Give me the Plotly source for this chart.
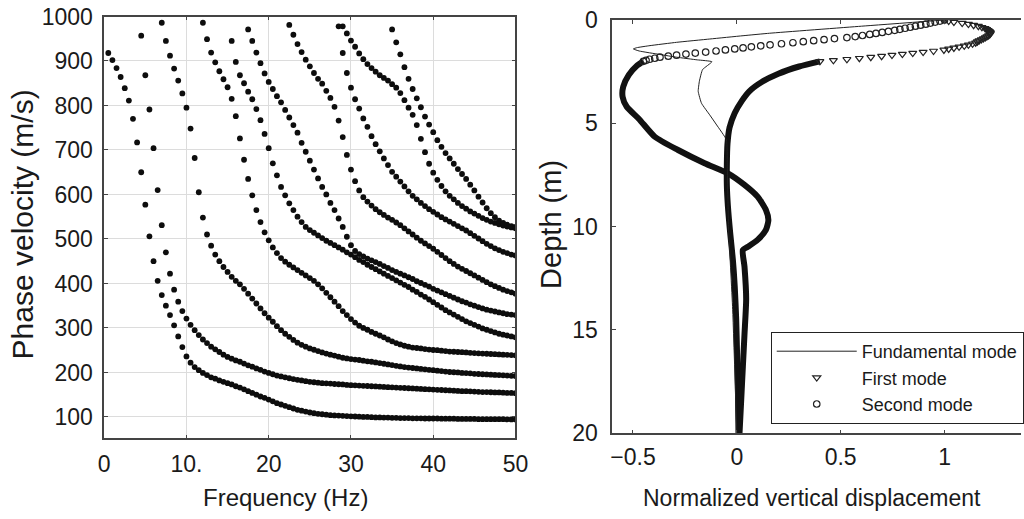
import numpy as np
import plotly.graph_objects as go

# ---------------- Left panel: dispersion curves (phase velocity vs frequency) ----------------
FREQ_STEP = 0.5
mode_start_freq = [0.5, 4.5, 7.0, 12.0, 15.5, 17.5, 22.5, 28.5, 29.0, 35.0]

v0 = [918, 902, 884, 864, 839, 811, 770, 717, 650, 577,
      506, 450, 406, 374, 350, 329, 306, 281, 257, 236,
      222, 212, 205, 199, 194, 189, 186, 182, 179, 176,
      173, 169, 166, 162, 158, 154, 150, 146, 143, 139,
      135, 131, 128, 125, 122, 119, 116, 114, 112, 110,
      108.5, 107, 106, 105, 104, 103.5, 103, 102.5, 102, 101.5,
      101, 100.5, 100, 100, 99.5, 99, 99, 98.5, 98.5, 98,
      98, 97.5, 97.5, 97.5, 97, 97, 97, 96.5, 96.5, 96.5,
      96.5, 96, 96, 96, 96, 95.5, 95.5, 95.5, 95.5, 95.5,
      95, 95, 95, 95, 95, 95, 95, 94.5, 94.5, 94.5]
v1 = [957, 868, 791, 704, 610, 531, 470, 422, 386, 359,
      338, 321, 307, 295, 284, 274, 266, 258, 252, 246,
      240, 235, 231, 227, 224, 220, 216, 213, 209, 206,
      202, 199, 196, 193, 191, 189, 187, 185, 183.5, 182,
      180.5, 179, 178, 177, 176, 175.5, 175, 174, 173.5, 173,
      172, 171.5, 171, 170.5, 170, 169.5, 169, 168.5, 168, 167.5,
      167, 166.5, 166, 165.5, 165, 164.5, 164, 163.5, 163, 162.5,
      162, 161.5, 161, 160.5, 160, 159.5, 159, 158.5, 158, 158,
      157.5, 157, 156.5, 156, 156, 155.5, 155, 155, 154.5, 154,
      154, 153.5]
v2 = [986, 945, 912, 883, 856, 827, 795, 748, 682, 605,
      548, 510, 485, 465, 450, 437, 426, 415, 406, 398,
      388, 377, 366, 355, 344, 333, 323, 314, 304, 295,
      287, 280, 273, 267, 262, 258, 254, 251, 248, 245,
      242.5, 240, 238, 235.5, 233, 231.5, 230, 229, 228, 226.5,
      225, 224, 222.5, 221, 219.5, 218, 216.5, 215, 213.5, 212,
      211, 210, 209, 208, 207, 206, 205, 204, 203, 202,
      201, 200.5, 200, 199, 198.5, 198, 197, 196.5, 196, 195.5,
      195, 194.5, 194, 193.5, 193, 192.5, 192]
v3 = [986, 949, 919, 897, 877, 859, 841, 815, 776, 726,
      678, 635, 598, 565, 538, 515, 497, 481, 468, 457,
      449, 442, 436, 430, 424, 418, 412, 406, 398, 389,
      379, 369, 359, 349, 338, 329, 320, 312, 305, 300,
      296, 291, 287, 283, 279, 274, 270, 266, 263, 260,
      258, 256, 255, 254, 252.5, 251.5, 250.5, 250, 249, 248,
      247, 246.5, 246, 245.5, 245, 244, 243.5, 243, 242.5, 242,
      241.5, 241, 240.5, 240, 239.5, 239, 238.5]
v4 = [945, 898, 868, 850, 831, 814, 792, 767, 736, 704,
      670, 643, 617, 598, 580, 565, 550, 538, 527, 520,
      514, 508, 502, 496, 491, 486, 481, 476, 470, 465,
      459, 453, 448, 442, 437, 432, 427, 422, 417, 412,
      407, 402, 397, 392, 386, 381, 375, 370, 364, 358,
      352, 346, 340, 335, 330, 325, 320, 315, 311, 307,
      303, 299, 296, 293, 290, 287, 285, 283, 281, 279]
v5 = [971, 945, 919, 895, 872, 853, 837, 821, 807, 790,
      773, 756, 739, 716, 696, 676, 656, 636, 617, 600,
      581, 565, 546, 527, 505, 486, 473, 466, 461, 456,
      452, 448, 444, 439, 435, 430, 426, 422, 418, 414,
      410, 405, 401, 397, 393, 388, 384, 380, 376, 372,
      368, 364, 360, 357, 353, 350, 347, 344, 341, 339,
      337, 335, 333, 331, 330, 329]
v6 = [981, 959, 938, 920, 903, 888, 873, 860, 849, 833,
      817, 797, 766, 729, 689, 656, 630, 609, 594, 584,
      575, 567, 560, 554, 548, 543, 537, 531, 524, 517,
      510, 503, 496, 490, 484, 478, 471, 464, 457, 450,
      444, 438, 433, 428, 423, 418, 413, 408, 403, 398,
      394, 390, 386, 383, 380, 377]
v7 = [978, 918, 873, 840, 814, 793, 771, 752, 731, 713,
      697, 681, 666, 651, 640, 629, 618, 607, 597, 589,
      581, 574, 567, 561, 555, 549, 544, 539, 534, 529,
      524, 519, 513, 507, 501, 495, 489, 484, 479, 475,
      471, 468, 465, 463]
v8 = [978, 962, 946, 932, 917, 904, 893, 884, 876, 868,
      862, 856, 848, 840, 828, 812, 795, 779, 756, 725,
      695, 669, 649, 633, 619, 607, 597, 589, 581, 574,
      568, 562, 557, 552, 547, 543, 539, 536, 533, 530,
      528, 526, 524]
v9 = [971, 942, 915, 886, 860, 837, 816, 796, 775, 757,
      740, 722, 707, 693, 681, 669, 657, 646, 635, 622,
      609, 595, 582, 569, 558, 549, 541, 536, 532, 529,
      527]
velocity_curves = [v0, v1, v2, v3, v4, v5, v6, v7, v8, v9]

x_ticks = [0, 10, 20, 30, 40, 50]
x_tick_text = ["0", "10.", "20", "30", "40", "50"]
y_ticks = [100, 200, 300, 400, 500, 600, 700, 800, 900, 1000]

# ---------------- Right panel: mode shapes (normalized vertical displacement vs depth) ----------------
fund_x = [1.0, 0.6, 0.158, 0.03, -0.13, -0.29, -0.418, -0.482, -0.498, -0.47, -0.37, -0.29,
          -0.19, -0.12, -0.165, -0.18, -0.186, -0.17, -0.13, -0.097, -0.05, -0.046, -0.04, -0.02, 0.0]
fund_depth = [0.0, 0.3, 0.64, 0.76, 0.92, 1.08, 1.24, 1.34, 1.40, 1.50, 1.67, 1.80,
              1.93, 2.02, 2.40, 2.95, 3.45, 4.03, 4.60, 5.08, 5.80, 7.0, 10.0, 14.0, 20.0]

first_x = [1.0, 1.02, 1.045, 1.085, 1.115, 1.14, 1.163, 1.18, 1.195, 1.203, 1.21,
           1.216, 1.22, 1.221, 1.218, 1.212, 1.204, 1.196, 1.187, 1.177, 1.166,
           1.158, 1.15, 1.135, 1.115, 1.095, 1.07, 1.045, 1.02, 0.997, 0.947,
           0.897, 0.847, 0.797, 0.747, 0.697, 0.645, 0.59, 0.53, 0.465, 0.40]
first_depth = [0.0, 0.05, 0.10, 0.15, 0.20, 0.25, 0.30, 0.35, 0.40, 0.45, 0.50,
               0.55, 0.60, 0.65, 0.70, 0.75, 0.80, 0.85, 0.90, 0.95, 1.00,
               1.05, 1.10, 1.15, 1.20, 1.25, 1.30, 1.35, 1.40, 1.45, 1.50,
               1.55, 1.60, 1.65, 1.70, 1.75, 1.80, 1.85, 1.90, 1.95, 2.00]
first_deep_x = [0.40, 0.30, 0.20, 0.12, 0.06, 0.025, -0.01, -0.035, -0.045, -0.048, -0.048,
                -0.043, -0.032, -0.019, -0.01, -0.003, 0.001, 0.005, 0.008]
first_deep_depth = [2.0, 2.25, 2.6, 3.0, 3.45, 3.9, 4.5, 5.2, 6.0, 7.0, 8.0,
                    9.0, 10.3, 11.6, 12.9, 14.5, 16.1, 17.7, 20.0]

second_x = [1.0, 0.978, 0.955, 0.932, 0.91, 0.885, 0.86, 0.835, 0.81, 0.785, 0.76,
            0.73, 0.70, 0.67, 0.64, 0.605, 0.57, 0.53, 0.47, 0.42, 0.37,
            0.32, 0.27, 0.215, 0.16, 0.115, 0.07, 0.03, -0.01, -0.055, -0.10,
            -0.15, -0.20, -0.245, -0.29, -0.33, -0.37, -0.395, -0.42, -0.437, -0.45]
second_depth = [0.0, 0.05, 0.10, 0.15, 0.20, 0.25, 0.30, 0.35, 0.40, 0.45, 0.50,
                0.55, 0.60, 0.65, 0.70, 0.75, 0.80, 0.85, 0.90, 0.95, 1.00,
                1.05, 1.10, 1.15, 1.20, 1.25, 1.30, 1.35, 1.40, 1.45, 1.50,
                1.55, 1.60, 1.65, 1.70, 1.75, 1.80, 1.85, 1.90, 1.95, 2.00]
second_deep_x = [-0.45, -0.48, -0.52, -0.547, -0.55, -0.53, -0.47, -0.395, -0.283, -0.155,
                 -0.043, 0.037, 0.10, 0.14, 0.152, 0.14, 0.10, 0.053, 0.029, 0.037,
                 0.045, 0.037, 0.029, 0.021, 0.013]
second_deep_depth = [2.0, 2.2, 2.66, 3.23, 3.71, 4.2, 4.8, 5.65, 6.29, 6.93,
                     7.42, 7.98, 8.55, 9.19, 9.68, 10.16, 10.64, 10.97, 11.13, 11.94,
                     13.5, 15.2, 16.8, 18.4, 20.0]

r_x_ticks = [-0.5, 0, 0.5, 1]
r_x_tick_text = ["\u22120.5", "0", "0.5", "1"]
r_y_ticks = [0, 5, 10, 15, 20]

# ---------------- Figure ----------------
W, H = 1024, 519
FONT = "Liberation Sans, Arial, Helvetica, sans-serif"
TXT = "#1a1a1a"

fig = go.Figure()

for f0, vals in zip(mode_start_freq, velocity_curves):
    freqs = f0 + FREQ_STEP * np.arange(len(vals))
    fig.add_trace(go.Scatter(
        x=freqs, y=vals, mode="markers", xaxis="x", yaxis="y",
        marker=dict(size=5.8, color="#0d0d0d", line=dict(width=0)),
        showlegend=False, hoverinfo="skip"))

# right panel
fig.add_trace(go.Scatter(
    x=first_deep_x, y=first_deep_depth, mode="lines", xaxis="x2", yaxis="y2",
    line=dict(color="#111111", width=6, shape="spline", smoothing=0.6),
    showlegend=False, hoverinfo="skip"))
fig.add_trace(go.Scatter(
    x=second_deep_x, y=second_deep_depth, mode="lines", xaxis="x2", yaxis="y2",
    line=dict(color="#111111", width=6, shape="spline", smoothing=0.6),
    showlegend=False, hoverinfo="skip"))
fig.add_trace(go.Scatter(
    x=fund_x, y=fund_depth, mode="lines", xaxis="x2", yaxis="y2",
    name="Fundamental mode", line=dict(color="#222222", width=1, shape="spline", smoothing=0.4)))
fig.add_trace(go.Scatter(
    x=first_x, y=first_depth, mode="markers", xaxis="x2", yaxis="y2",
    name="First mode",
    marker=dict(symbol="triangle-down-open", size=7, color="#222222", line=dict(width=1.2))))
fig.add_trace(go.Scatter(
    x=second_x, y=second_depth, mode="markers", xaxis="x2", yaxis="y2",
    name="Second mode",
    marker=dict(symbol="circle-open", size=6.5, color="#222222", line=dict(width=1.2))))

axis_common = dict(showline=True, linecolor="#444444", linewidth=1.5, ticks="inside",
                   ticklen=4, tickcolor="#444444", zeroline=False, automargin=False,
                   tickfont=dict(family=FONT, size=23, color=TXT))

fig.update_layout(
    width=W, height=H,
    margin=dict(l=0, r=0, t=0, b=0),
    paper_bgcolor="white", plot_bgcolor="white",
    xaxis=dict(domain=[104.5 / W, 517 / W], range=[0, 50], anchor="y",
               tickvals=x_ticks, ticktext=x_tick_text, mirror="ticks",
               showgrid=True, gridcolor="#dcdcdc", gridwidth=1,
               ticklabelstandoff=4, **axis_common),
    yaxis=dict(domain=[1 - 438.3 / H, 1 - 16.5 / H], range=[52, 1000], anchor="x",
               tickvals=y_ticks, mirror="ticks",
               showgrid=True, gridcolor="#dcdcdc", gridwidth=1,
               ticklabelstandoff=5, **axis_common),
    xaxis2=dict(domain=[614 / W, 1.0], range=[-0.6, (1024 - 739) / 208.3], anchor="y2",
                tickvals=r_x_ticks, ticktext=r_x_tick_text, mirror="ticks",
                showgrid=False, ticklabelstandoff=2, **axis_common),
    yaxis2=dict(domain=[1 - 433.3 / H, 1 - 20 / H], range=[20, 0], anchor="x2",
                tickvals=r_y_ticks, showgrid=False, ticklabelstandoff=8, **axis_common),
    legend=dict(x=773 / W, y=1 - 332 / H, xanchor="left", yanchor="top",
                bgcolor="white", bordercolor="#222222", borderwidth=1,
                font=dict(family=FONT, size=18, color=TXT),
                itemwidth=80, tracegroupgap=0),
    annotations=[
        dict(text="Frequency (Hz)", x=286 / W, y=1 - 497 / H, xref="paper", yref="paper",
             showarrow=False, xanchor="center", yanchor="middle",
             font=dict(family=FONT, size=24, color=TXT)),
        dict(text="Phase velocity (m/s)", x=23 / W, y=1 - 224.5 / H, xref="paper", yref="paper",
             showarrow=False, xanchor="center", yanchor="middle", textangle=-90,
             font=dict(family=FONT, size=30, color=TXT)),
        dict(text="Depth (m)", x=552.5 / W, y=1 - 224 / H, xref="paper", yref="paper",
             showarrow=False, xanchor="center", yanchor="middle", textangle=-90,
             font=dict(family=FONT, size=29, color=TXT)),
        dict(text="Normalized vertical displacement", x=814 / W, y=1 - 498 / H,
             xref="paper", yref="paper", showarrow=False, xanchor="center", yanchor="middle",
             font=dict(family=FONT, size=23, color=TXT)),
    ],
)

fig.write_html("out.html")
